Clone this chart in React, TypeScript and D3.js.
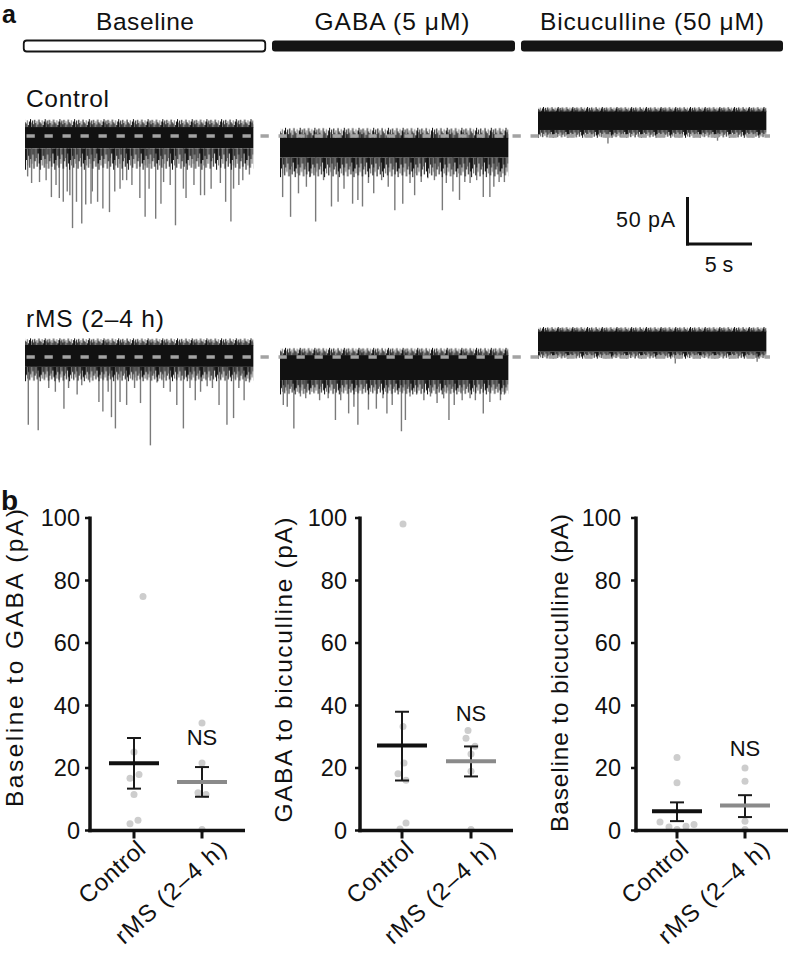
import React from "react";
import * as d3 from "d3";

// ---------- DATA ----------
const conditions = ["Baseline", "GABA (5 μM)", "Bicuculline (50 μM)"];
const groups = ["Control", "rMS (2–4 h)"];
const categories = ["Control", "rMS (2–4 h)"];
const yTicks = [0, 20, 40, 60, 80, 100];

// scale bar values
const scaleBarPA = 50;
const scaleBarS = 5;

// trace band levels, pA relative to the holding line: [fuzz top, dense top, dense bottom, fringe bottom]
const ctrlBands = [
  [18, 9.5, -13, -36],
  [9, -2, -23, -44],
  [31, 26, 6.4, -2],
];
const rmsBands = [
  [20, 12.8, -10.5, -26],
  [10, 2, -24.5, -40],
  [32, 27, 5.6, -2],
];
const traceDuration = 17.3; // s

// spontaneous events: [time s, peak pA]
const ctrlBaseSpikes: [number, number][] = [[0.2,-43],[0.5,-50],[1.1,-49],[1.6,-47],[2.0,-65],[2.35,-52],[2.6,-66],[2.9,-70],[3.2,-59],[3.4,-63],[3.6,-98],[3.9,-70],[4.3,-93],[4.6,-73],[5.0,-72],[5.1,-59],[5.5,-70],[5.9,-77],[6.4,-81],[6.8,-59],[7.2,-56],[7.4,-47],[7.7,-47],[8.1,-52],[8.7,-66],[9.1,-86],[9.4,-56],[9.9,-88],[10.3,-72],[10.5,-49],[11.0,-52],[11.4,-95],[12.0,-56],[12.2,-66],[12.8,-52],[13.3,-63],[13.6,-63],[14.1,-56],[14.8,-50],[15.2,-70],[15.6,-91],[15.8,-56],[16.2,-52],[16.5,-47],[17.0,-41]];
const ctrlGabaSpikes: [number, number][] = [[0.2,-65],[0.8,-86],[1.4,-61],[2.0,-54],[2.3,-43],[2.7,-91],[3.3,-47],[3.9,-75],[4.4,-70],[4.85,-56],[5.5,-72],[5.9,-68],[6.25,-75],[6.7,-50],[7.1,-61],[7.7,-47],[8.2,-54],[8.7,-79],[9.3,-72],[9.85,-50],[10.2,-63],[10.7,-49],[11.2,-45],[11.7,-47],[12.3,-79],[12.6,-50],[13.1,-59],[13.6,-68],[14.0,-49],[14.4,-50],[14.9,-47],[15.4,-65],[15.9,-65],[16.2,-54],[16.6,-49],[17.0,-49]];
const ctrlBicSpikes: [number, number][] = [[5.3,-8],[13.6,-5]];
const rmsBaseSpikes: [number, number][] = [[0.25,-72],[1.0,-78],[1.8,-33],[2.3,-37],[2.6,-27],[2.95,-55],[3.3,-33],[3.95,-40],[4.3,-30],[4.9,-27],[5.6,-48],[5.9,-58],[6.3,-37],[6.55,-64],[6.85,-76],[7.2,-48],[7.7,-51],[8.3,-33],[8.75,-49],[9.5,-94],[10.0,-27],[10.5,-33],[11.0,-37],[11.5,-51],[12.0,-76],[12.5,-33],[12.9,-46],[13.3,-37],[13.8,-31],[14.2,-33],[14.7,-51],[15.3,-72],[15.8,-65],[16.2,-33],[16.6,-46],[17.0,-27]];
const rmsGabaSpikes: [number, number][] = [[0.25,-51],[0.55,-53],[1.05,-76],[1.55,-42],[1.95,-44],[3.0,-46],[3.65,-44],[4.2,-67],[4.6,-46],[5.2,-60],[5.6,-53],[5.9,-72],[6.7,-56],[7.3,-55],[7.8,-44],[8.1,-60],[8.5,-51],[9.2,-79],[9.5,-67],[9.85,-42],[10.35,-40],[10.9,-46],[11.4,-42],[11.9,-49],[12.4,-44],[12.8,-67],[13.2,-51],[13.8,-46],[14.4,-44],[14.8,-46],[15.4,-60],[15.9,-48],[16.7,-46],[17.0,-40]];
const rmsBicSpikes: [number, number][] = [[10.4,-7],[16.6,-5]];

// panel b values (pA)
const bgTitle = "Baseline to GABA (pA)";
const bgCtrl = [74.9, 25.1, 17.9, 16.7, 11.5, 3.3, 2.2];
const bgRms = [34.4, 21.6, 12.1, 11.5, 0.3];
const bgMean = [21.5, 15.5];
const bgHi = [29.6, 20.3];
const bgLo = [13.4, 10.8];

const gbTitle = "GABA to bicuculline (pA)";
const gbCtrl = [98.1, 33.3, 21.6, 18.2, 16.1, 2.4, 0.5];
const gbRms = [32, 29.5, 27, 24.5, 19, 0.3];
const gbMean = [27.2, 22.2];
const gbHi = [38.0, 26.9];
const gbLo = [16.0, 17.3];

const bbTitle = "Baseline to bicuculline (pA)";
const bbCtrl = [23.4, 15.3, 2.7, 1.1, 0.3, 1.4, 1.9];
const bbRms = [20.0, 15.8, 3.0, 0.3];
const bbMean = [6.2, 8.0];
const bbHi = [9.0, 11.3];
const bbLo = [3.0, 4.3];

const nsLabel = "NS";

// ---------- LAYOUT / STYLE ----------
const FONT = "'Liberation Sans', Arial, Helvetica, sans-serif";
const colX0 = [25, 280, 538];
const rowLineY = [136, 357];
const rowLabelY = [107, 327];
const barX = [[23, 266], [272, 515], [521, 783]];
const labelCenters = [145, 392, 652];
const labelLens = [98, 155, 224];
const hairFracs = [1, 0.55, 0.8, 0.35, 0.9, 0.5, 0.72, 0.3, 0.95, 0.6, 0.45, 0.85, 0.25, 0.7];
const catLabelEnd = [13, 26];
const catLabelLen = [80, 140];

const plots = [
  { title: bgTitle, ctrl: bgCtrl, rms: bgRms, mean: bgMean, hi: bgHi, lo: bgLo,
    ctrlJit: [9, 0, 5, -4, 0, 4, -4], rmsJit: [0, 0, -4, 4, 0],
    axisX: 90, axisEnd: 245, cat: [134, 202], nsY: 27.5, titleX: 23, titleY: 658, titleLen: 298, tickGap: 10 },
  { title: gbTitle, ctrl: gbCtrl, rms: gbRms, mean: gbMean, hi: gbHi, lo: gbLo,
    ctrlJit: [1, 1, 2, -4, 4, 4, -2], rmsJit: [-3, -5, 4, 0, 0, 0],
    axisX: 360, axisEnd: 513, cat: [402, 471], nsY: 35.2, titleX: 292, titleY: 670, titleLen: 305, tickGap: 13 },
  { title: bbTitle, ctrl: bbCtrl, rms: bbRms, mean: bbMean, hi: bbHi, lo: bbLo,
    ctrlJit: [0, 0, -17, -8, 0, 9, 17], rmsJit: [0, 0, 0, 0],
    axisX: 636, axisEnd: 788, cat: [677, 745], nsY: 24, titleX: 568, titleY: 673, titleLen: 318, tickGap: 15 },
];

// trace scales (scale bar: 5 s = 66 px, 50 pA = 47 px)
const tScale = d3.scaleLinear().domain([0, scaleBarS]).range([0, 66]);
const iScale = d3.scaleLinear().domain([0, scaleBarPA]).range([0, -47]);

function Trace({ id, x0, lineY, band, spikes }: any) {
  const [fTop, dTop, dBot, hBot] = band;
  const w = tScale(traceDuration);
  const yF = lineY + iScale(fTop);
  const yD = lineY + iScale(dTop);
  const yB = lineY + iScale(dBot);
  const yH = lineY + iScale(hBot);
  const hairH = yH - yB;
  const fuzzH = yD - yF;
  const step = 1.05;
  const pw = step * hairFracs.length;
  return (
    <g>
      <defs>
        <pattern id={`hair-${id}`} patternUnits="userSpaceOnUse" x={x0} y={yB} width={pw} height={hairH + 2}>
          {hairFracs.map((f, i) => (
            <line key={i} x1={i * step + 0.5} x2={i * step + 0.5} y1={0} y2={f * hairH}
              stroke={i % 4 === 2 ? "#666" : "#141414"} strokeWidth={1.05} />
          ))}
        </pattern>
        <pattern id={`fuzz-${id}`} patternUnits="userSpaceOnUse" x={x0 + 5} y={yF} width={pw} height={fuzzH + 2}>
          {hairFracs.map((f, i) => (
            <line key={i} x1={i * step + 0.5} x2={i * step + 0.5} y1={fuzzH + 1} y2={fuzzH * (1 - f)}
              stroke={i % 5 === 1 ? "#777" : "#141414"} strokeWidth={1.05} />
          ))}
        </pattern>
      </defs>
      {spikes.map(([t, a]: [number, number], i: number) => (
        <line key={i} x1={x0 + tScale(t)} x2={x0 + tScale(t)} y1={yB} y2={lineY + iScale(a)}
          stroke="#7a7a7a" strokeWidth={1.4} />
      ))}
      <rect x={x0} y={yB} width={w} height={hairH} fill={`url(#hair-${id})`} />
      <rect x={x0} y={yF} width={w} height={fuzzH + 0.5} fill={`url(#fuzz-${id})`} />
      <rect x={x0} y={yD} width={w} height={yB - yD} fill="#111" />
    </g>
  );
}

function DotPlot({ p }: any) {
  const y = d3.scaleLinear().domain([0, 100]).range([830.5, 518]);
  const x = d3.scalePoint().domain(categories).range(p.cat);
  const axisY = y(0);
  const pts = [
    ...p.ctrl.map((v: number, i: number) => ({ v, cx: (x(categories[0]) as number) + p.ctrlJit[i] })),
    ...p.rms.map((v: number, i: number) => ({ v, cx: (x(categories[1]) as number) + p.rmsJit[i] })),
  ];
  return (
    <g fontFamily={FONT}>
      {pts.map((d, i) => (
        <circle key={i} cx={d.cx} cy={y(d.v)} r={3.5} fill="#cdcdcd" />
      ))}
      {/* axes */}
      <line x1={p.axisX} x2={p.axisX} y1={y(100) - 1.5} y2={axisY + 1.75} stroke="#111" strokeWidth={3.5} />
      <line x1={p.axisX - 1.75} x2={p.axisEnd} y1={axisY} y2={axisY} stroke="#111" strokeWidth={3.5} />
      {yTicks.map((t) => (
        <g key={t}>
          <line x1={p.axisX - 5} x2={p.axisX} y1={y(t)} y2={y(t)} stroke="#111" strokeWidth={2.5} />
          <text x={p.axisX - p.tickGap} y={y(t)} dy="0.36em" textAnchor="end" fontSize={23.5} fill="#111">{t}</text>
        </g>
      ))}
      {categories.map((c, i) => (
        <g key={c}>
          <line x1={x(c)} x2={x(c)} y1={axisY} y2={axisY + 8} stroke="#111" strokeWidth={3} />
          <text transform={`translate(${(x(c) as number) + catLabelEnd[i]},${axisY + 21}) rotate(-42)`} textAnchor="end"
            fontSize={24} fill="#111" textLength={catLabelLen[i]} lengthAdjust="spacing">{c}</text>
        </g>
      ))}
      {/* mean and sem */}
      {categories.map((c, i) => {
        const cx = x(c) as number;
        return (
          <g key={c}>
            <line x1={cx} x2={cx} y1={y(p.hi[i])} y2={y(p.lo[i])} stroke="#1a1a1a" strokeWidth={2} />
            <line x1={cx - 7} x2={cx + 7} y1={y(p.hi[i])} y2={y(p.hi[i])} stroke="#1a1a1a" strokeWidth={2} />
            <line x1={cx - 7} x2={cx + 7} y1={y(p.lo[i])} y2={y(p.lo[i])} stroke="#1a1a1a" strokeWidth={2} />
            <line x1={cx - 25} x2={cx + 25} y1={y(p.mean[i])} y2={y(p.mean[i])}
              stroke={i === 0 ? "#111" : "#8a8a8a"} strokeWidth={4} />
          </g>
        );
      })}
      <text x={x(categories[1])} y={y(p.nsY)} textAnchor="middle" fontSize={22} fill="#111">{nsLabel}</text>
      <text transform={`translate(${p.titleX},${p.titleY}) rotate(-90)`} textAnchor="middle" fontSize={24.5}
        fill="#111" textLength={p.titleLen} lengthAdjust="spacing">{p.title}</text>
    </g>
  );
}

export default function App() {
  const bands = [ctrlBands, rmsBands];
  const spikes = [[ctrlBaseSpikes, ctrlGabaSpikes, ctrlBicSpikes], [rmsBaseSpikes, rmsGabaSpikes, rmsBicSpikes]];
  const rowLens = [83, 138];
  return (
    <svg width={788} height={960} viewBox="0 0 788 960"
      style={{ position: "absolute", left: 0, top: 0, display: "block", background: "#fff" }}>
      <rect width={788} height={960} fill="#fff" />
      <g fontFamily={FONT} fill="#111">
        <text x={2} y={23} fontSize={25} fontWeight="bold">a</text>
        <text x={1} y={510} fontSize={28} fontWeight="bold">b</text>
        {conditions.map((c, i) => (
          <g key={c}>
            <text x={labelCenters[i]} y={29.5} textAnchor="middle" fontSize={24.5}
              textLength={labelLens[i]} lengthAdjust="spacing">{c}</text>
            <rect x={barX[i][0] + (i === 0 ? 0.75 : 0)} y={40.5} width={barX[i][1] - barX[i][0] - (i === 0 ? 1.5 : 0)} height={11}
              rx={3} fill={i === 0 ? "#fff" : "#141414"} stroke="#141414" strokeWidth={i === 0 ? 1.8 : 0} />
          </g>
        ))}
        {groups.map((g, r) => (
          <text key={g} x={26} y={rowLabelY[r]} fontSize={24.5} textLength={rowLens[r]} lengthAdjust="spacing">{g}</text>
        ))}
      </g>
      {groups.map((g, r) => (
        <g key={g}>
          {colX0.map((x0, c) => (
            <Trace key={c} id={`${r}-${c}`} x0={x0} lineY={rowLineY[r]} band={bands[r][c]} spikes={spikes[r][c]} />
          ))}
          <line x1={26.5} x2={770} y1={rowLineY[r]} y2={rowLineY[r]} stroke="#a3a3a3" strokeWidth={3.5}
            strokeDasharray="8.3 9.7" />
        </g>
      ))}
      {/* scale bar */}
      <g fontFamily={FONT} fill="#111">
        <line x1={687.5} x2={687.5} y1={244 + iScale(scaleBarPA)} y2={245.5} stroke="#111" strokeWidth={3} />
        <line x1={686} x2={686 + tScale(scaleBarS)} y1={244} y2={244} stroke="#111" strokeWidth={3} />
        <text x={675} y={227} textAnchor="end" fontSize={21.5} textLength={59} lengthAdjust="spacing">{`${scaleBarPA} pA`}</text>
        <text x={719} y={272} textAnchor="middle" fontSize={21.5}>{`${scaleBarS} s`}</text>
      </g>
      {plots.map((p, i) => (
        <DotPlot key={i} p={p} />
      ))}
    </svg>
  );
}
